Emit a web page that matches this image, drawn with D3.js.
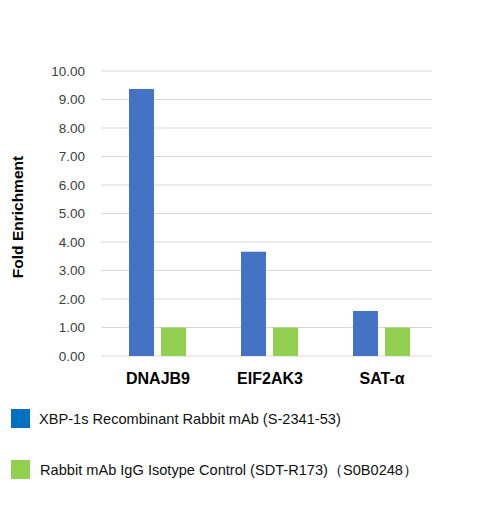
<!DOCTYPE html>
<html><head><meta charset="utf-8">
<script src="https://cdn.jsdelivr.net/npm/d3@7"></script>
<style>body{margin:0;background:#fff;font-family:Arial,"Liberation Sans",sans-serif;}</style>
</head><body><div id="chart"></div>
<script>
// Data
const categories = ['DNAJB9', 'EIF2AK3', 'SAT-α'];
const seriesNames = ['XBP-1s Recombinant Rabbit mAb (S-2341-53)', 'Rabbit mAb IgG Isotype Control (SDT-R173)（S0B0248）'];
const xbpValues = [9.37, 3.66, 1.58];
const controlValues = [1.0, 1.0, 1.0];
const yTicks = [0, 1, 2, 3, 4, 5, 6, 7, 8, 9, 10];

const width = 490, height = 507;
const svg = d3.select('#chart').append('svg').attr('width', width).attr('height', height);

const x = d3.scaleBand().domain(categories).range([101, 437]);
const sub = d3.scaleBand().domain([0, 1]).range([28, 85]).paddingInner(0.22);
const y = d3.scaleLinear().domain([0, 10]).range([356, 71]);

// Gridlines
svg.append('g').selectAll('line').data(yTicks).enter().append('line')
    .attr('x1', 101).attr('x2', 432)
    .attr('y1', d => y(d)).attr('y2', d => y(d))
    .attr('stroke', '#d9d9d9').attr('stroke-width', 1);

// Y tick labels
svg.append('g').selectAll('text').data(yTicks).enter().append('text')
    .attr('x', 85).attr('y', d => y(d)).attr('dy', '0.35em')
    .attr('text-anchor', 'end').attr('font-size', 13.5).attr('fill', '#404040')
    .text(d => d.toFixed(2));

// Bars
const colors = ['#4472c4', '#92d050'];
[xbpValues, controlValues].forEach((vals, s) => {
    svg.append('g').selectAll('rect').data(vals).enter().append('rect')
        .attr('x', (d, i) => x(categories[i]) + sub(s))
        .attr('width', sub.bandwidth())
        .attr('y', d => y(d))
        .attr('height', d => y(0) - y(d))
        .attr('fill', colors[s]);
});

// Category labels
svg.append('g').selectAll('text').data(categories).enter().append('text')
    .attr('x', d => x(d) + 57).attr('y', 384)
    .attr('text-anchor', 'middle').attr('font-size', 16).attr('font-weight', 'bold')
    .text(d => d);

// Y title
svg.append('text')
    .attr('transform', 'translate(23,217) rotate(-90)')
    .attr('text-anchor', 'middle').attr('font-size', 15.5).attr('font-weight', 'bold')
    .text('Fold Enrichment');

// Legend
const legendColors = ['#0070c0', '#92d050'];
const legendY = [409, 460];
seriesNames.forEach((name, i) => {
    svg.append('rect').attr('x', 11).attr('y', legendY[i]).attr('width', 19).attr('height', 19).attr('fill', legendColors[i]);
    svg.append('text').attr('x', 39 + i).attr('y', legendY[i] + 10).attr('dy', '0.35em')
        .attr('font-size', 14.6).attr('fill', '#111').text(name);
});
</script></body></html>
